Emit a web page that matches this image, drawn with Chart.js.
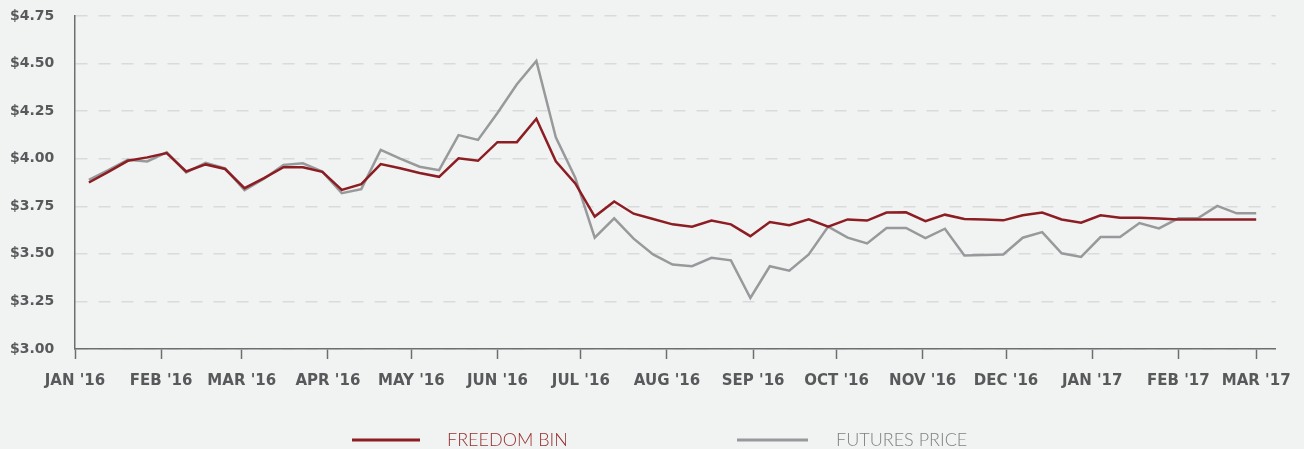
<!DOCTYPE html>
<html>
<head>
<meta charset="utf-8">
<script src="https://cdn.jsdelivr.net/npm/chart.js@4.4.1/dist/chart.umd.min.js"></script>
<style>
  html, body { margin: 0; padding: 0; background: #f1f2f2; }
  #wrap { width: 1304px; height: 449px; position: relative; }
</style>
</head>
<body>
<div id="wrap"><canvas id="chart"></canvas></div>
<script>
// weekly observations
const weekDates = [
  '2016-01-06','2016-01-13','2016-01-20','2016-01-27',
  '2016-02-03','2016-02-10','2016-02-17','2016-02-24',
  '2016-03-02','2016-03-09','2016-03-16','2016-03-23','2016-03-30',
  '2016-04-06','2016-04-13','2016-04-20','2016-04-27',
  '2016-05-04','2016-05-11','2016-05-18','2016-05-25',
  '2016-06-01','2016-06-08','2016-06-15','2016-06-22','2016-06-29',
  '2016-07-06','2016-07-13','2016-07-20','2016-07-27',
  '2016-08-03','2016-08-10','2016-08-17','2016-08-24','2016-08-31',
  '2016-09-07','2016-09-14','2016-09-21','2016-09-28',
  '2016-10-05','2016-10-12','2016-10-19','2016-10-26',
  '2016-11-02','2016-11-09','2016-11-16','2016-11-23','2016-11-30',
  '2016-12-07','2016-12-14','2016-12-21','2016-12-28',
  '2017-01-04','2017-01-11','2017-01-18','2017-01-25',
  '2017-02-01','2017-02-08','2017-02-15','2017-02-22',
  '2017-03-01'
];

const freedomBin = [
  3.875, 3.931, 3.989, 4.007,
  4.030, 3.933, 3.970, 3.946,
  3.845, 3.898, 3.955, 3.955, 3.931,
  3.836, 3.866, 3.972, 3.950,
  3.925, 3.905, 4.002, 3.989,
  4.087, 4.087, 4.210, 3.986, 3.870,
  3.696, 3.775, 3.711, 3.683,
  3.655, 3.643, 3.675, 3.655, 3.593,
  3.667, 3.651, 3.681, 3.643,
  3.681, 3.675, 3.717, 3.718,
  3.672, 3.706, 3.683, 3.680, 3.676,
  3.703, 3.717, 3.681, 3.664,
  3.703, 3.690, 3.690, 3.686,
  3.681, 3.681, 3.681, 3.681,
  3.681
];

const futuresPrice = [
  3.889, 3.940, 3.995, 3.986,
  4.034, 3.928, 3.979, 3.950,
  3.835, 3.895, 3.967, 3.976, 3.932,
  3.819, 3.840, 4.046, 4.000,
  3.958, 3.940, 4.124, 4.099,
  4.240, 4.391, 4.514, 4.113, 3.900,
  3.585, 3.687, 3.580, 3.497,
  3.444, 3.435, 3.479, 3.466, 3.268,
  3.435, 3.412, 3.497, 3.643,
  3.585, 3.555, 3.636, 3.636,
  3.583, 3.632, 3.491, 3.494, 3.497,
  3.585, 3.614, 3.503, 3.484,
  3.588, 3.588, 3.662, 3.634,
  3.687, 3.687, 3.752, 3.713,
  3.713
];

const monthStarts = [
  '2016-01-01','2016-02-01','2016-03-01','2016-04-01','2016-05-01',
  '2016-06-01','2016-07-01','2016-08-01','2016-09-01','2016-10-01',
  '2016-11-01','2016-12-01','2017-01-01','2017-02-01','2017-03-01'
];
const monthLabels = [
  "JAN '16","FEB '16","MAR '16","APR '16","MAY '16","JUN '16","JUL '16",
  "AUG '16","SEP '16","OCT '16","NOV '16","DEC '16","JAN '17","FEB '17","MAR '17"
];

const seriesNames = ['FREEDOM BIN', 'FUTURES PRICE'];
const seriesColors = ['#8c1d22', '#98999b'];
const legendTextColors = ['#94302f', '#808183'];

const origin = Date.UTC(2016, 0, 1);
function dayOf(s) {
  const p = s.split('-').map(Number);
  return (Date.UTC(p[0], p[1] - 1, p[2]) - origin) / 86400000;
}

const toPoints = vals => vals.map((v, i) => ({ x: dayOf(weekDates[i]), y: v }));

const axisColor = '#6d6e70';

const bottomLegend = {
  id: 'bottomLegend',
  afterDraw(chart) {
    const ctx = chart.ctx;
    const y = 440;
    const items = [
      { x1: 352, x2: 420, tx: 447 },
      { x1: 737, x2: 808, tx: 836 }
    ];
    ctx.save();
    ctx.font = '300 18px Lato';
    ctx.textBaseline = 'middle';
    ctx.textAlign = 'left';
    items.forEach((it, i) => {
      ctx.strokeStyle = seriesColors[i];
      ctx.lineWidth = 3;
      ctx.beginPath();
      ctx.moveTo(it.x1, y);
      ctx.lineTo(it.x2, y);
      ctx.stroke();
      ctx.fillStyle = legendTextColors[i];
      ctx.fillText(seriesNames[i], it.tx, y);
    });
    ctx.restore();
  }
};

new Chart(document.getElementById('chart'), {
  type: 'line',
  data: {
    datasets: [
      {
        label: seriesNames[0],
        data: toPoints(freedomBin),
        borderColor: seriesColors[0],
        borderWidth: 2.5,
        pointRadius: 0,
        tension: 0
      },
      {
        label: seriesNames[1],
        data: toPoints(futuresPrice),
        borderColor: seriesColors[1],
        borderWidth: 2.5,
        pointRadius: 0,
        tension: 0
      }
    ]
  },
  options: {
    responsive: true,
    maintainAspectRatio: false,
    animation: false,
    layout: { padding: { left: 10, right: 26, top: 16, bottom: 0 } },
    plugins: {
      legend: { display: false },
      tooltip: { enabled: false }
    },
    scales: {
      x: {
        type: 'linear',
        min: 0,
        max: 432,
        afterBuildTicks: s => { s.ticks = monthStarts.map(d => ({ value: dayOf(d) })); },
        afterFit: s => { s.height = 100; },
        ticks: {
          autoSkip: false,
          maxRotation: 0,
          padding: 13,
          color: '#58595b',
          font: { family: 'DejaVu Sans', weight: 'bold', size: 15 },
          callback: (v, i) => monthLabels[i]
        },
        grid: {
          drawOnChartArea: false,
          drawTicks: true,
          tickLength: 10,
          tickColor: axisColor,
          tickWidth: 1.5
        },
        border: { color: axisColor, width: 1.5 }
      },
      y: {
        min: 3,
        max: 4.75,
        afterFit: s => { s.width = 65; },
        ticks: {
          stepSize: 0.25,
          crossAlign: 'far',
          color: '#58595b',
          font: { family: 'DejaVu Sans', weight: 'bold', size: 14 },
          callback: v => '$' + v.toFixed(2)
        },
        grid: {
          color: '#d9dadb',
          lineWidth: 1.5,
          drawTicks: false
        },
        border: { color: axisColor, width: 1.5, dash: [12, 11] }
      }
    }
  },
  plugins: [bottomLegend]
});
</script>
</body>
</html>
